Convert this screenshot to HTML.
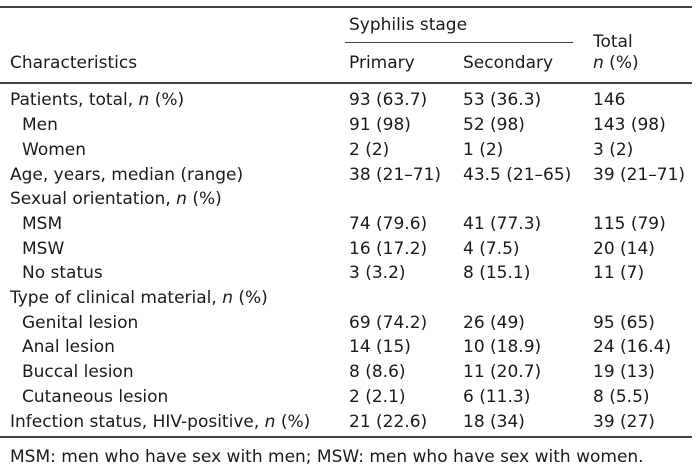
<!DOCTYPE html>
<html><head><meta charset="utf-8"><style>
html,body{margin:0;padding:0;background:#fff;}
body{width:700px;height:473px;position:relative;overflow:hidden;font-family:"DejaVu Sans","Liberation Sans",sans-serif;font-size:17px;color:#1a1a1a;}
.t{position:absolute;white-space:nowrap;line-height:20px;margin-top:1px;}
.l{position:absolute;background:#444;}
i{font-style:italic;}
</style></head><body>
<div class="l" style="left:0;top:6px;width:692px;height:2px;"></div>
<div class="l" style="left:345px;top:42px;width:228px;height:1px;"></div>
<div class="l" style="left:0;top:82px;width:692px;height:2px;"></div>
<div class="l" style="left:0;top:436px;width:692px;height:2px;"></div>

<div class="t" style="left:349px;top:14px;">Syphilis stage</div>
<div class="t" style="left:593px;top:31px;">Total</div>
<div class="t" style="left:10px;top:52px;">Characteristics</div>
<div class="t" style="left:349px;top:52px;">Primary</div>
<div class="t" style="left:463px;top:52px;">Secondary</div>
<div class="t" style="left:593px;top:52px;"><i>n</i> (%)</div>

<div class="t" style="left:10px;top:89px;">Patients, total, <i>n</i> (%)</div><div class="t" style="left:349px;top:89px;">93 (63.7)</div><div class="t" style="left:463px;top:89px;">53 (36.3)</div><div class="t" style="left:593px;top:89px;">146</div>
<div class="t" style="left:22px;top:114px;">Men</div><div class="t" style="left:349px;top:114px;">91 (98)</div><div class="t" style="left:463px;top:114px;">52 (98)</div><div class="t" style="left:593px;top:114px;">143 (98)</div>
<div class="t" style="left:22px;top:139px;">Women</div><div class="t" style="left:349px;top:139px;">2 (2)</div><div class="t" style="left:463px;top:139px;">1 (2)</div><div class="t" style="left:593px;top:139px;">3 (2)</div>
<div class="t" style="left:10px;top:164px;">Age, years, median (range)</div><div class="t" style="left:349px;top:164px;">38 (21–71)</div><div class="t" style="left:463px;top:164px;">43.5 (21–65)</div><div class="t" style="left:593px;top:164px;">39 (21–71)</div>
<div class="t" style="left:10px;top:188px;">Sexual orientation, <i>n</i> (%)</div>
<div class="t" style="left:22px;top:213px;">MSM</div><div class="t" style="left:349px;top:213px;">74 (79.6)</div><div class="t" style="left:463px;top:213px;">41 (77.3)</div><div class="t" style="left:593px;top:213px;">115 (79)</div>
<div class="t" style="left:22px;top:238px;">MSW</div><div class="t" style="left:349px;top:238px;">16 (17.2)</div><div class="t" style="left:463px;top:238px;">4 (7.5)</div><div class="t" style="left:593px;top:238px;">20 (14)</div>
<div class="t" style="left:22px;top:262px;">No status</div><div class="t" style="left:349px;top:262px;">3 (3.2)</div><div class="t" style="left:463px;top:262px;">8 (15.1)</div><div class="t" style="left:593px;top:262px;">11 (7)</div>
<div class="t" style="left:10px;top:287px;">Type of clinical material, <i>n</i> (%)</div>
<div class="t" style="left:22px;top:312px;">Genital lesion</div><div class="t" style="left:349px;top:312px;">69 (74.2)</div><div class="t" style="left:463px;top:312px;">26 (49)</div><div class="t" style="left:593px;top:312px;">95 (65)</div>
<div class="t" style="left:22px;top:336px;">Anal lesion</div><div class="t" style="left:349px;top:336px;">14 (15)</div><div class="t" style="left:463px;top:336px;">10 (18.9)</div><div class="t" style="left:593px;top:336px;">24 (16.4)</div>
<div class="t" style="left:22px;top:361px;">Buccal lesion</div><div class="t" style="left:349px;top:361px;">8 (8.6)</div><div class="t" style="left:463px;top:361px;">11 (20.7)</div><div class="t" style="left:593px;top:361px;">19 (13)</div>
<div class="t" style="left:22px;top:386px;">Cutaneous lesion</div><div class="t" style="left:349px;top:386px;">2 (2.1)</div><div class="t" style="left:463px;top:386px;">6 (11.3)</div><div class="t" style="left:593px;top:386px;">8 (5.5)</div>
<div class="t" style="left:10px;top:411px;">Infection status, HIV-positive, <i>n</i> (%)</div><div class="t" style="left:349px;top:411px;">21 (22.6)</div><div class="t" style="left:463px;top:411px;">18 (34)</div><div class="t" style="left:593px;top:411px;">39 (27)</div>

<div class="t" style="left:10px;top:446px;">MSM: men who have sex with men; MSW: men who have sex with women.</div>
</body></html>
